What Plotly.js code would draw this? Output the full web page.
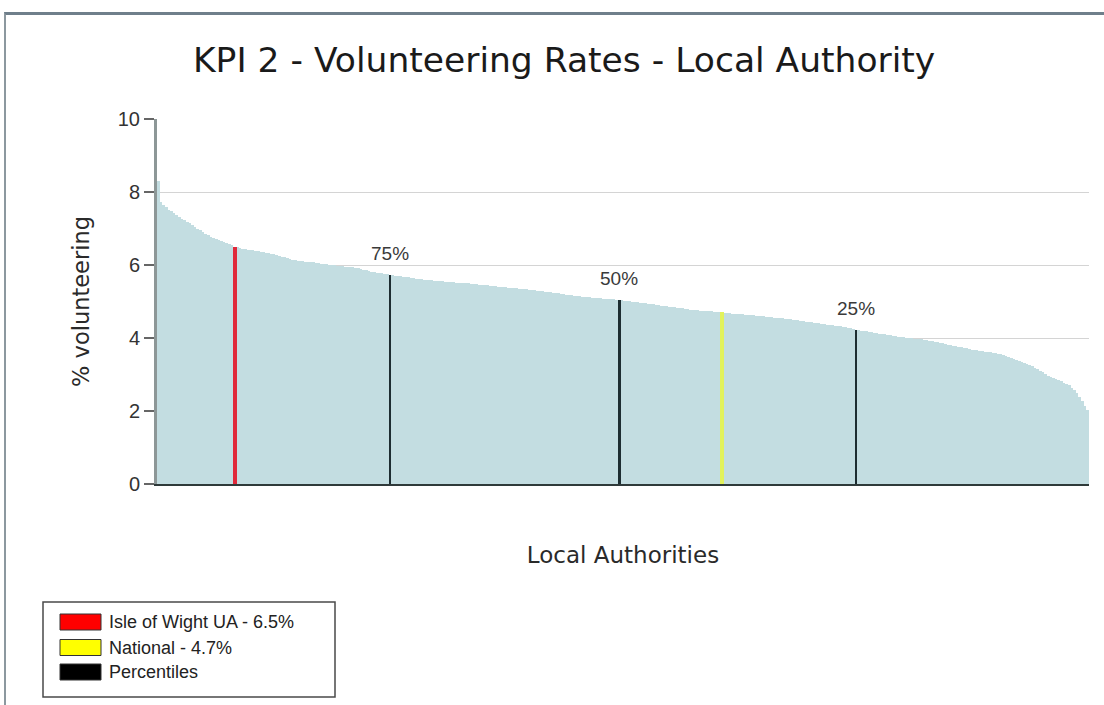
<!DOCTYPE html>
<html>
<head>
<meta charset="utf-8">
<script src="https://cdn.plot.ly/plotly-3.0.1.min.js"></script>
<style>
  html, body { margin: 0; padding: 0; background: #ffffff; }
  #frame { position: absolute; left: 4px; top: 12px; width: 1100px; height: 693px;
           border-top: 3px solid #6f7f8b; border-left: 2px solid #8c989f; }
  #chart { position: absolute; left: 0; top: 0; width: 1104px; height: 705px; }
</style>
</head>
<body>
<div id="frame"></div>
<div id="chart"></div>
<script>
// ---- data ----
const chartTitle = "KPI 2 - Volunteering Rates - Local Authority";
const xTitle = "Local Authorities";
const yTitle = "% volunteering";
const yTicks = [0, 2, 4, 6, 8, 10];

// volunteering rate of every local authority, sorted high to low
const rates = [
  8.31, 7.72, 7.65, 7.58, 7.52, 7.47, 7.42, 7.37, 7.32, 7.27,
  7.23, 7.18, 7.14, 7.09, 7.04, 7.00, 6.95, 6.91, 6.86, 6.82,
  6.77, 6.74, 6.71, 6.68, 6.65, 6.62, 6.59, 6.57, 6.54, 6.50,
  6.48, 6.46, 6.45, 6.43, 6.42, 6.41, 6.40, 6.39, 6.38, 6.37,
  6.35, 6.34, 6.33, 6.31, 6.29, 6.27, 6.25, 6.23, 6.21, 6.19,
  6.17, 6.15, 6.13, 6.12, 6.11, 6.10, 6.09, 6.08, 6.08, 6.07,
  6.06, 6.05, 6.04, 6.03, 6.02, 6.01, 6.00, 5.99, 5.98, 5.97,
  5.96, 5.95, 5.95, 5.95, 5.94, 5.93, 5.91, 5.89, 5.87, 5.86,
  5.84, 5.82, 5.81, 5.79, 5.78, 5.77, 5.76, 5.75, 5.73, 5.72,
  5.71, 5.70, 5.69, 5.68, 5.67, 5.66, 5.65, 5.64, 5.63, 5.62,
  5.61, 5.60, 5.60, 5.59, 5.58, 5.57, 5.57, 5.56, 5.55, 5.54,
  5.54, 5.53, 5.53, 5.52, 5.52, 5.51, 5.51, 5.50, 5.50, 5.49,
  5.48, 5.47, 5.46, 5.46, 5.45, 5.44, 5.43, 5.43, 5.42, 5.41,
  5.40, 5.40, 5.39, 5.38, 5.37, 5.37, 5.36, 5.35, 5.34, 5.33,
  5.33, 5.32, 5.32, 5.31, 5.30, 5.29, 5.28, 5.27, 5.26, 5.25,
  5.24, 5.23, 5.22, 5.21, 5.20, 5.19, 5.18, 5.17, 5.16, 5.15,
  5.14, 5.13, 5.12, 5.11, 5.11, 5.10, 5.10, 5.09, 5.09, 5.08,
  5.08, 5.07, 5.07, 5.06, 5.05, 5.04, 5.03, 5.02, 5.02, 5.01,
  5.00, 4.99, 4.98, 4.97, 4.96, 4.95, 4.94, 4.93, 4.92, 4.91,
  4.90, 4.89, 4.88, 4.87, 4.86, 4.85, 4.84, 4.83, 4.82, 4.81,
  4.80, 4.79, 4.78, 4.77, 4.77, 4.76, 4.75, 4.75, 4.74, 4.73,
  4.73, 4.72, 4.71, 4.71, 4.70, 4.69, 4.69, 4.68, 4.67, 4.67,
  4.66, 4.65, 4.65, 4.64, 4.63, 4.62, 4.62, 4.61, 4.60, 4.60,
  4.59, 4.58, 4.58, 4.57, 4.56, 4.56, 4.55, 4.54, 4.53, 4.52,
  4.51, 4.50, 4.49, 4.48, 4.47, 4.46, 4.45, 4.44, 4.43, 4.42,
  4.41, 4.40, 4.39, 4.38, 4.37, 4.36, 4.35, 4.34, 4.33, 4.32,
  4.30, 4.29, 4.28, 4.27, 4.25, 4.22, 4.21, 4.20, 4.19, 4.18,
  4.17, 4.16, 4.15, 4.13, 4.12, 4.11, 4.10, 4.08, 4.07, 4.06,
  4.05, 4.04, 4.03, 4.02, 4.01, 4.00, 3.99, 3.98, 3.97, 3.96,
  3.96, 3.95, 3.94, 3.93, 3.91, 3.90, 3.88, 3.87, 3.85, 3.84,
  3.82, 3.81, 3.79, 3.78, 3.76, 3.75, 3.73, 3.72, 3.70, 3.68,
  3.67, 3.66, 3.65, 3.64, 3.63, 3.62, 3.61, 3.60, 3.58, 3.57,
  3.55, 3.53, 3.51, 3.49, 3.46, 3.43, 3.40, 3.37, 3.34, 3.31,
  3.28, 3.25, 3.22, 3.18, 3.14, 3.10, 3.06, 3.02, 2.97, 2.93,
  2.90, 2.87, 2.84, 2.81, 2.78, 2.74, 2.70, 2.64, 2.58, 2.50,
  2.38, 2.27, 2.15, 2.03
];

// highlighted authorities (rank position in the sorted list, value)
const isleRank = [30];
const isleValue = [6.5];
const nationalRank = [215];
const nationalValue = [4.7];
const percentileRanks = [89, 176, 266];
const percentileValues = [5.73, 5.04, 4.22];
const percentileLabels = ["75%", "50%", "25%"];

const legendLabels = ["Isle of Wight UA - 6.5%", "National - 4.7%", "Percentiles"];
const legendColors = ["#ff0000", "#ffff00", "#000000"];

// ---- chart ----
const ranks = rates.map((v, i) => i + 1);

const traces = [
  { type: "bar", x: ranks, y: rates, width: 1,
    marker: { color: "#c3dde1", line: { width: 0 } },
    showlegend: false, hoverinfo: "y" },
  { type: "bar", x: isleRank, y: isleValue, width: 1.6, name: legendLabels[0],
    marker: { color: "#e0283a", line: { width: 0 } }, showlegend: false },
  { type: "bar", x: nationalRank, y: nationalValue, width: 1.6, name: legendLabels[1],
    marker: { color: "#e2f25c", line: { width: 0 } }, showlegend: false },
  { type: "bar", x: percentileRanks, y: percentileValues, width: 1.1, name: legendLabels[2],
    marker: { color: "#1d2d31", line: { width: 0 } }, showlegend: false }
];

// pixel helpers for the hand-made legend (plot area: x 157..1089, y 119..484)
const L = 157, W = 932, T = 119, H = 365;
const px = p => (p - L) / W;
const py = p => (T + H - p) / H;

const annotations = percentileRanks.map((r, i) => ({
  x: r, y: percentileValues[i], xref: "x", yref: "y",
  text: percentileLabels[i], showarrow: false, yanchor: "bottom", yshift: 9,
  font: { family: "Liberation Sans, Arial", size: 19, color: "#3a3a3a" }
}));

const shapes = [
  { type: "rect", xref: "paper", yref: "paper", x0: px(43), x1: px(335), y0: py(602), y1: py(697),
    line: { color: "#4a4a4a", width: 1.5 }, fillcolor: "rgba(0,0,0,0)" }
];
const swatchY = [622, 647.5, 672];
legendLabels.forEach((lab, i) => {
  shapes.push({ type: "rect", xref: "paper", yref: "paper",
    x0: px(60), x1: px(101), y0: py(swatchY[i] + 8), y1: py(swatchY[i] - 8),
    line: { color: "#333333", width: 1 }, fillcolor: legendColors[i] });
  annotations.push({ xref: "paper", yref: "paper", x: px(107), y: py(swatchY[i]),
    xanchor: "left", yanchor: "middle", showarrow: false, text: lab,
    font: { family: "Liberation Sans, Arial", size: 18, color: "#222222" } });
});

const layout = {
  width: 1104, height: 705,
  margin: { l: L, r: 1104 - L - W, t: T, b: 705 - T - H, pad: 0 },
  paper_bgcolor: "rgba(0,0,0,0)", plot_bgcolor: "rgba(0,0,0,0)",
  barmode: "overlay", bargap: 0,
  title: { text: chartTitle, x: 0.511, xanchor: "center", y: 0.915, yanchor: "middle",
           font: { family: "DejaVu Sans", size: 34.5, color: "#1a1a1a" } },
  xaxis: {
    range: [0.5, rates.length + 0.5], showticklabels: false, ticks: "", showgrid: false,
    zeroline: false, showline: true, linecolor: "#2f3a3a", linewidth: 2,
    title: { text: xTitle, standoff: 62, font: { family: "DejaVu Sans", size: 23, color: "#2a2a2a" } },
    automargin: false, fixedrange: true
  },
  yaxis: {
    range: [0, 10], tickvals: yTicks, ticktext: yTicks.map(String),
    ticks: "outside", ticklen: 10, tickcolor: "#666666", tickwidth: 1.5,
    ticklabelstandoff: 0,
    tickfont: { family: "Liberation Sans, Arial", size: 20, color: "#333333" },
    showgrid: true, gridcolor: "#d4d4d4", gridwidth: 1, zeroline: false,
    showline: true, linecolor: "#8d9797", linewidth: 3,
    title: { text: yTitle, standoff: 22, font: { family: "DejaVu Sans", size: 22.5, color: "#2a2a2a" } },
    automargin: false, fixedrange: true
  },
  annotations: annotations,
  shapes: shapes,
  showlegend: false
};

Plotly.newPlot("chart", traces, layout, { displayModeBar: false, staticPlot: true });
</script>
</body>
</html>
